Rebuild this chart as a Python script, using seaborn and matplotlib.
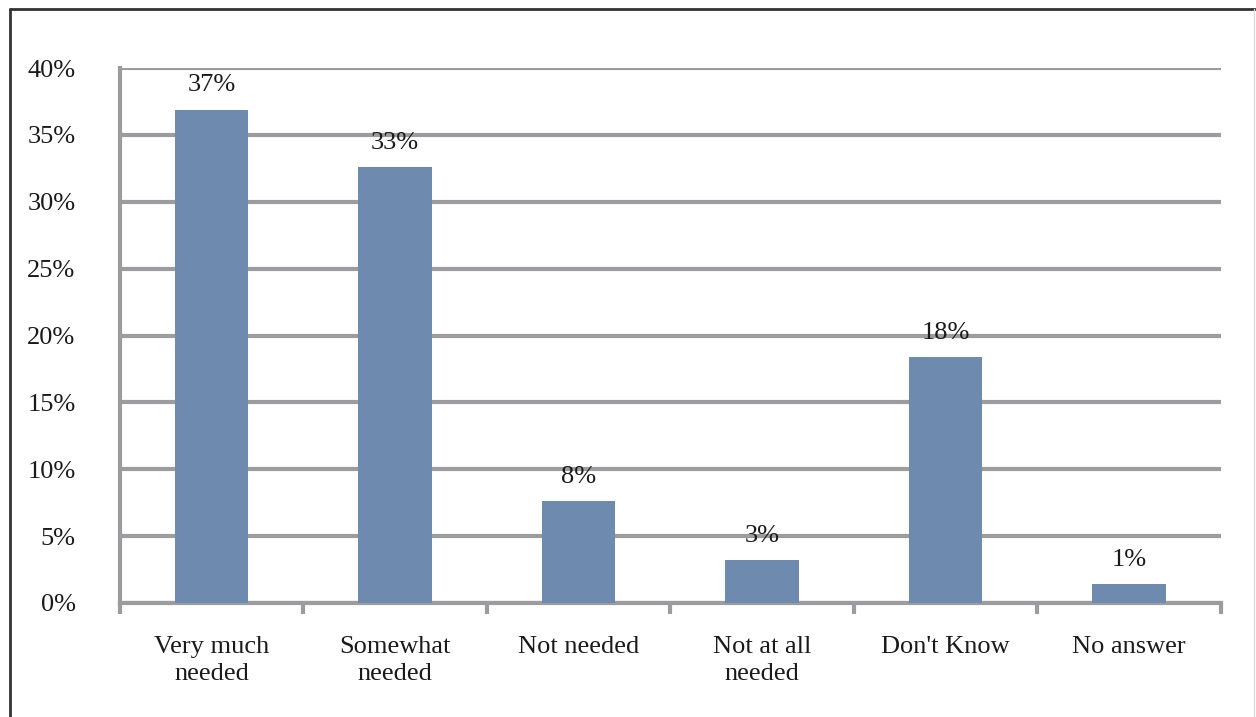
import matplotlib
matplotlib.use("Agg")
import matplotlib.pyplot as plt
import seaborn as sns
import pandas as pd
from matplotlib.lines import Line2D

# Data
categories = ["Very much\nneeded", "Somewhat\nneeded", "Not needed",
              "Not at all\nneeded", "Don't Know", "No answer"]
values = [36.9, 32.6, 7.6, 3.2, 18.4, 1.4]
labels = ["37%", "33%", "8%", "3%", "18%", "1%"]
yticks = [0, 5, 10, 15, 20, 25, 30, 35, 40]

df = pd.DataFrame({"category": categories, "value": values})

sns.set_style("white")
plt.rcParams["font.family"] = ["Liberation Serif", "DejaVu Serif"]

grid_color = "#9c9c9f"
bar_color = "#6f8aaf"
text_color = "#1a1a1a"
fs = 19

fig = plt.figure(figsize=(12.56, 7.17), dpi=100)
ax = fig.add_axes([0.0955, 0.159, 0.8765, 0.746])

sns.barplot(data=df, x="category", y="value", color=bar_color,
            width=0.4, saturation=1, linewidth=0, ax=ax, zorder=3)

ax.set_ylim(0, 40)
ax.set_xlim(-0.5, 5.5)
ax.set_yticks(yticks)
ax.set_yticklabels([f"{t}%" for t in yticks], fontsize=fs, color=text_color)
ax.yaxis.grid(True, color=grid_color, linewidth=3, zorder=0)
ax.set_axisbelow(True)
ax.tick_params(axis="y", length=0, pad=32)

# category boundary ticks on x axis
ax.set_xticks([i - 0.5 for i in range(7)], minor=True)
ax.tick_params(axis="x", which="minor", bottom=True, length=8, width=3,
               color=grid_color, direction="out")
ax.tick_params(axis="x", which="major", length=0, pad=24, labelsize=fs, labelcolor=text_color)
for t in ax.get_xticklabels():
    t.set_linespacing(1.28)
ax.set_xlabel("")
ax.set_ylabel("")

for s in ["top", "right"]:
    ax.spines[s].set_visible(False)
for s in ["left", "bottom"]:
    ax.spines[s].set_color(grid_color)
    ax.spines[s].set_linewidth(3)

for i, (v, lab) in enumerate(zip(values, labels)):
    ax.text(i, v + 1.0, lab, ha="center", va="bottom", fontsize=fs, color=text_color)

# outer frame
fig.add_artist(Line2D([0.008, 0.008], [0.0, 0.987], transform=fig.transFigure, color="#333333", linewidth=2))
fig.add_artist(Line2D([0.008, 1.0], [0.987, 0.987], transform=fig.transFigure, color="#333333", linewidth=2))
fig.add_artist(Line2D([0.9985, 0.9985], [0.0, 0.987], transform=fig.transFigure, color="#dddddd", linewidth=1))

fig.savefig("out.png", dpi=100)
